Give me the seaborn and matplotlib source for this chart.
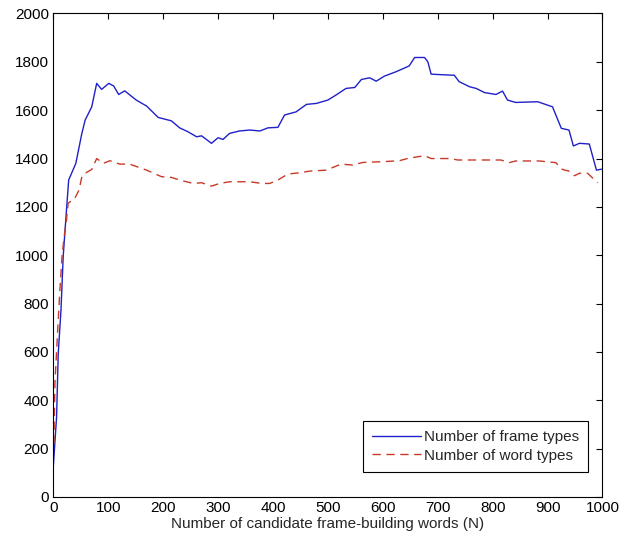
import matplotlib
matplotlib.use("Agg")
import matplotlib.pyplot as plt
import seaborn as sns
import pandas as pd

# ---- data ----
frame_n = [0, 6, 9, 14, 18, 24, 28, 41, 52, 58,
           70, 79, 88, 101, 110, 119, 130, 151, 170, 191,
           203, 215, 230, 245, 261, 270, 288, 300, 309, 321,
           339, 358, 376, 391, 409, 421, 442, 461, 479, 500,
           515, 533, 549, 561, 576, 588, 603, 624, 648, 658,
           676, 682, 688, 724, 730, 739, 758, 770, 785, 806,
           818, 827, 842, 882, 909, 925, 939, 947, 958, 976,
           989, 998]
frame_types = [125, 332, 594, 773, 994, 1187, 1311, 1380, 1504, 1559,
               1614, 1711, 1686, 1711, 1700, 1665, 1680, 1642, 1617, 1570,
               1563, 1556, 1527, 1511, 1490, 1494, 1463, 1486, 1479, 1504,
               1514, 1518, 1514, 1527, 1529, 1580, 1593, 1624, 1628, 1642,
               1663, 1690, 1694, 1727, 1734, 1720, 1741, 1759, 1783, 1818,
               1818, 1800, 1749, 1745, 1745, 1718, 1697, 1690, 1673, 1665,
               1679, 1642, 1632, 1635, 1614, 1525, 1518, 1452, 1463, 1460,
               1352, 1356]

word_n = [1, 3, 8, 12, 16, 20, 24, 27, 39, 47,
          52, 58, 70, 79, 91, 103, 121, 139, 170, 197,
          215, 230, 255, 270, 288, 303, 321, 358, 379, 394,
          409, 427, 448, 467, 497, 524, 545, 564, 600, 630,
          648, 663, 676, 688, 724, 736, 782, 815, 830, 842,
          885, 915, 927, 939, 949, 958, 973, 991]
word_types = [220, 471, 690, 856, 1000, 1080, 1146, 1215, 1235, 1270,
              1325, 1339, 1355, 1400, 1380, 1391, 1377, 1377, 1352, 1325,
              1322, 1311, 1297, 1300, 1286, 1297, 1304, 1304, 1297, 1297,
              1311, 1336, 1341, 1348, 1352, 1377, 1373, 1384, 1387, 1391,
              1402, 1407, 1412, 1400, 1400, 1394, 1394, 1394, 1383, 1390,
              1390, 1383, 1355, 1348, 1329, 1339, 1339, 1300]

series_labels = ["Number of frame types", "Number of word types"]
x_label = "Number of candidate frame-building words (N)"
x_ticks = list(range(0, 1001, 100))
y_ticks = list(range(0, 2001, 200))

sns.set_style("white")
plt.rcParams["font.family"] = ["Liberation Sans", "DejaVu Sans"]
plt.rcParams["font.size"] = 11

fig = plt.figure(figsize=(6.36, 5.44), dpi=100)
ax = fig.add_axes([0.0838, 0.0864, 0.8635, 0.8888])

df_frame = pd.DataFrame({"N": frame_n, "count": frame_types})
df_word = pd.DataFrame({"N": word_n, "count": word_types})

sns.lineplot(data=df_frame, x="N", y="count", ax=ax, color="#2020c8",
             linewidth=1.0, label=series_labels[0])
sns.lineplot(data=df_word, x="N", y="count", ax=ax, color="#c83a28",
             linewidth=1.0, linestyle=(0, (6, 4)), label=series_labels[1])

ax.set_xlim(0, 1000)
ax.set_ylim(0, 2000)
ax.set_xticks(x_ticks)
ax.set_yticks(y_ticks)
ax.set_xlabel(x_label, fontsize=11, labelpad=1)
ax.set_ylabel("")
ax.tick_params(direction="in", length=4, width=0.8, top=True, right=True,
               labelsize=11, colors="black", pad=3)
for sp in ax.spines.values():
    sp.set_visible(True)
    sp.set_color("black")
    sp.set_linewidth(0.8)

leg = ax.legend(loc="lower right", bbox_to_anchor=(0.974, 0.052),
                frameon=True, fancybox=False, framealpha=1,
                edgecolor="black", handlelength=3.2, fontsize=11,
                borderpad=0.6, labelspacing=0.3, handletextpad=0.2,
                borderaxespad=0)
leg.get_frame().set_linewidth(0.8)

fig.savefig("out.png", dpi=100, facecolor="white")
